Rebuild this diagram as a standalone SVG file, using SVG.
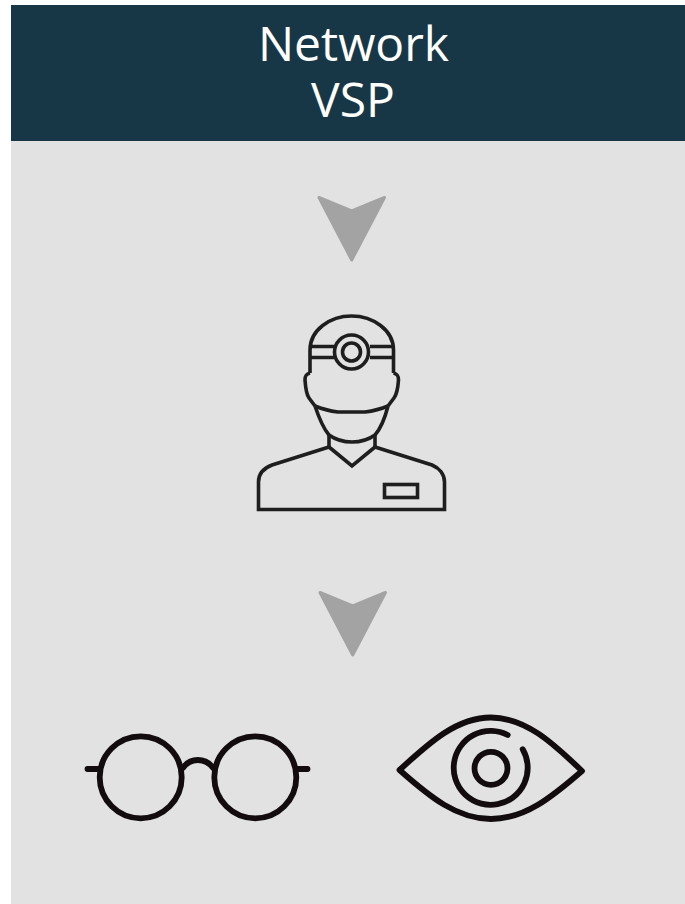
<svg xmlns="http://www.w3.org/2000/svg" width="685" height="904" viewBox="0 0 685 904">
<style>
.title{font-family:"Open Sans","Noto Sans",sans-serif;font-size:48px;font-weight:400;fill:#fff;text-anchor:middle}
.arrow{fill:#a3a3a3;stroke:#a3a3a3;stroke-width:3;stroke-linejoin:round}
.doc{fill:none;stroke:#1e1e1e;stroke-width:3.600;stroke-linejoin:miter}
.ink{fill:none;stroke:#120c0e;stroke-width:5.800;stroke-linecap:round;stroke-linejoin:round}
</style>
<defs><path id="chev" d="M319 197.500 L351.700 211 L384.500 197.500 L351.700 260 Z"/></defs>
<rect width="685" height="904" fill="#fff"/>
<rect x="11" y="5" width="674" height="899" fill="#e2e2e2"/>
<g id="header">
<rect x="11" y="5" width="674" height="136" fill="#183746"/>
<text class="title"><tspan x="353.500" y="61">Network</tspan><tspan x="353" y="117">VSP</tspan></text>
</g>
<g id="connectors">
<use href="#chev" class="arrow"/>
<use href="#chev" class="arrow" transform="translate(1 395)"/>
</g>
<g id="doctor" class="doc">
<path d="M310 373 V350 C310 330 330 316 351.500 316 C373 316 393.500 330 393.500 350 V373"/>
<path d="M310 346.500 H334 M310 357.500 H334 M370 346.500 H393.500 M370 357.500 H393.500"/>
<circle cx="351.500" cy="352" r="17"/>
<circle cx="351.500" cy="352" r="9"/>
<path d="M310 373 C306 374 305 376 305 380 C305.500 387 306 394 309 398 L315 406 M393.500 373 C397.500 374 398.500 376 398.500 380 C398 387 397 394 394 398 L388 406"/>
<path d="M315 406 C322 409 330 411 338 412 H365 C373 411 381 409 388 406"/>
<path d="M315 406 C319 418 323 428 329 435 C336 440 344 442 352 442 C360 442 368 440 375 435 C381 428 385 418 388 406"/>
<path d="M329 435 V447 M375 435 V447"/>
<path d="M329 447 L352 466 L375 447"/>
<path d="M329 447 L272 465 C264 468 258.500 474 258.500 482 V509.500 H444.500 V482 C444.500 474 439 468 432 465 L375 447"/>
<rect x="384.500" y="484.500" width="33" height="13"/>
</g>
<g id="glasses" class="ink">
<circle cx="140.700" cy="777.300" r="41"/>
<circle cx="255.300" cy="777.300" r="41"/>
<path d="M183 768 C187 762 192 760 197.700 760 C203 760 209 762 213 768"/>
<path d="M87.500 769 H99 M297 769 H307.500"/>
</g>
<g id="eye" class="ink">
<path d="M399.500 770 C430 742 457 717.500 491 717.500 C525 717.500 552 742 582 771 C552 797 525 819 491 819 C457 819 430 797 399.500 770 Z"/>
<circle cx="491" cy="768.300" r="16.500"/>
<path d="M507.700 735 A37 37 0 1 0 522.700 749.300"/>
</g>
</svg>
